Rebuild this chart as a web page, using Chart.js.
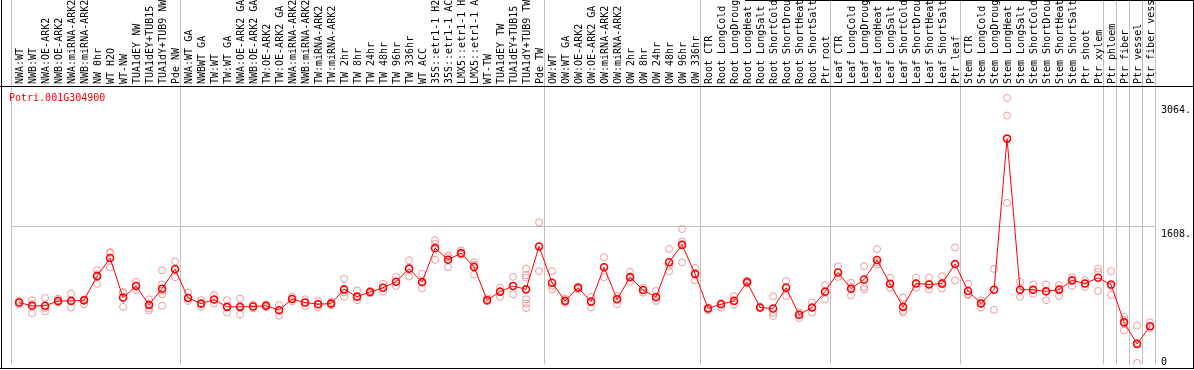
<!DOCTYPE html>
<html>
<head>
<meta charset="utf-8">
<script src="https://cdn.jsdelivr.net/npm/chart.js@4/dist/chart.umd.min.js"></script>
<style>
  html, body { margin: 0; padding: 0; background: #ffffff; }
  #chart { display: block; }
</style>
</head>
<body>
<canvas id="chart" width="1194" height="370"></canvas>
<script>
// Sample names, in plot order
const categories = [
    'NWA:WT', 'NWB:WT', 'NWA:OE-ARK2', 'NWB:OE-ARK2', 'NWA:miRNA-ARK2', 'NWB:miRNA-ARK2',
    'NW 0hr', 'WT H2O', 'WT-NW', 'TUA1dEY NW', 'TUA1dEY+TUB15 NW', 'TUA1dY+TUB9 NW', 'Pde NW',
    'NWA:WT GA', 'NWBWT GA', 'TW:WT', 'TW:WT GA', 'NWA:OE-ARK2 GA', 'NWB:OE-ARK2 GA',
    'TW:OE-ARK2', 'TW:OE-ARK2 GA', 'NWA:miRNA-ARK2 GA', 'NWB:miRNA-ARK2 GA', 'TW:miRNA-ARK2',
    'TW:miRNA-ARK2', 'TW 2hr', 'TW 8hr', 'TW 24hr', 'TW 48hr', 'TW 96hr', 'TW 336hr', 'WT ACC',
    '35S::etr1-1 H2O', '35S::etr1-1 ACC', 'LMX5::etr1-1 H2O', 'LMX5::etr1-1 ACC', 'WT-TW',
    'TUA1dEY TW', 'TUA1dEY+TUB15 TW', 'TUA1dY+TUB9 TW', 'Pde TW',
    'OW:WT', 'OW:WT GA', 'OW:OE-ARK2', 'OW:OE-ARK2 GA', 'OW:miRNA-ARK2', 'OW:miRNA-ARK2',
    'OW 2hr', 'OW 8hr', 'OW 24hr', 'OW 48hr', 'OW 96hr', 'OW 336hr',
    'Root CTR', 'Root LongCold', 'Root LongDrought', 'Root LongHeat', 'Root LongSalt',
    'Root ShortCold', 'Root ShortDrought', 'Root ShortHeat', 'Root ShortSalt', 'Ptr root',
    'Leaf CTR', 'Leaf LongCold', 'Leaf LongDrought', 'Leaf LongHeat', 'Leaf LongSalt',
    'Leaf ShortCold', 'Leaf ShortDrought', 'Leaf ShortHeat', 'Leaf ShortSalt', 'Ptr leaf',
    'Stem CTR', 'Stem LongCold', 'Stem LongDrought', 'Stem LongHeat', 'Stem LongSalt',
    'Stem ShortCold', 'Stem ShortDrought', 'Stem ShortHeat', 'Stem ShortSalt', 'Ptr shoot',
    'Ptr xylem', 'Ptr phloem', 'Ptr fiber', 'Ptr vessel', 'Ptr fiber vessel'
];

// Mean expression per sample
const meanValues = [
    722, 684, 684, 741, 741, 749, 1030, 1242, 780, 915, 695, 884, 1111,
    776, 710, 757, 672, 672, 676, 684, 633, 764, 722, 703, 710, 876, 791, 845, 895, 964, 1118, 961,
    1357, 1222, 1299, 1138, 749, 849, 915, 876, 1377,
    953, 741, 895, 733, 1134, 760, 1019, 868, 787, 1192, 1395, 1057,
    653, 703, 741, 961, 664, 653, 895, 580, 664, 849,
    1072, 884, 991, 1219, 941, 672, 945, 933, 945, 1172,
    857, 710, 872, 2636, 872, 872, 853, 872, 980, 945,
    1011, 933, 491, 240, 445
];

// Individual replicates per sample
const replicateValues = [
    [745, 722, 700], [749, 705, 598], [776, 658, 618], [768, 733, 722], [826, 741, 664], [760, 741, 703],
    [1100, 1050, 940], [1311, 1299, 1134], [845, 837, 672], [964, 922, 864], [760, 656, 633],
    [1100, 933, 860, 818, 684], [1203, 1111, 1019],
    [837, 776, 741], [749, 710, 672], [811, 757, 710], [749, 672, 606], [768, 672, 583], [699, 676, 653],
    [700, 684, 668], [691, 633, 568], [790, 764, 738], [760, 722, 684], [740, 703, 666], [730, 710, 690],
    [999, 840, 790], [864, 791, 749], [860, 845, 830], [941, 895, 849], [1019, 964, 915],
    [1215, 1118, 1026], [1057, 961, 887], [1450, 1410, 1222], [1273, 1250, 1134], [1330, 1290, 1280],
    [1192, 1165, 1049], [771, 749, 737], [895, 849, 787], [1022, 915, 818],
    [1118, 1042, 1011, 760, 710, 656], [1658, 1377, 1088],
    [1088, 918, 876], [768, 741, 718], [910, 895, 880], [787, 733, 664], [1250, 1134, 1019],
    [799, 760, 703], [1080, 1019, 964], [895, 868, 837], [857, 780, 741], [1349, 1148, 1088],
    [1580, 1434, 1192], [1126, 1057, 980],
    [664, 653, 633], [718, 703, 664], [795, 741, 695], [980, 961, 945], [672, 664, 656],
    [795, 600, 565], [972, 903, 799], [606, 580, 541], [722, 664, 606], [926, 849, 760],
    [1146, 1072, 1022], [953, 903, 806], [1146, 903, 876], [1346, 1192, 1164], [1011, 941, 895],
    [780, 626, 606], [1011, 945, 895], [1011, 933, 876], [1030, 933, 887], [1365, 1172, 980],
    [940, 820, 811], [749, 710, 664], [1115, 872, 637], [3110, 2905, 1885], [964, 872, 787],
    [933, 872, 826], [933, 857, 749], [926, 887, 799], [1019, 991, 915], [980, 945, 903],
    [1118, 1080, 857], [1088, 915, 811], [557, 520, 395], [453, 240, 17], [491, 445, 425]
];

// Value axis ticks
const yTickValues = [0, 1608, 3064];
const yMax = 3250;

// First sample of each tissue group (a grey separator is drawn before it)
const groupStarts = [0, 13, 41, 53, 63, 73, 84, 85, 86, 87];

const geneName = 'Potri.001G304900';

const monoFont = { family: 'DejaVu Sans Mono', size: 10, lineHeight: 1 };
const gridGrey = '#c0c0c0';

// Points sit a little right of each slot's centre in the original
const pointShift = 0.12;

// Build point lists for the linear axis
const meanPoints = meanValues.map((v, i) => ({ x: i, y: v }));
const replicatePoints = [];
replicateValues.forEach((reps, i) => {
    reps.forEach(v => replicatePoints.push({ x: i, y: v }));
});

// Frame lines and the gene name
const framePlugin = {
    id: 'frame',
    afterDraw(chart) {
        const c = chart.ctx;
        const w = chart.width;
        c.save();
        c.fillStyle = '#000000';
        c.fillRect(1, 0, 1, 369);
        c.fillRect(w - 1, 0, 1, 369);
        c.fillRect(0, 368, w, 1);
        c.fillRect(0, 86, w, 1);
        c.fillRect(745, 0, w - 745, 1);

        c.fillStyle = '#ff0000';
        c.font = '10px "DejaVu Sans Mono"';
        c.textBaseline = 'alphabetic';
        c.textAlign = 'left';
        c.fillText(geneName, 9, 101);
        c.restore();
    }
};

const chartCtx = document.getElementById('chart').getContext('2d');

new Chart(chartCtx, {
    type: 'line',
    data: {
        labels: categories,
        datasets: [
            {
                label: 'mean',
                data: meanPoints,
                xAxisID: 'xr',
                yAxisID: 'y',
                borderColor: '#ff0000',
                borderWidth: 1,
                tension: 0,
                fill: false,
                pointRadius: 3.5,
                pointBorderWidth: 1.6,
                pointBorderColor: '#ff0000',
                pointBackgroundColor: 'rgba(0,0,0,0)'
            },
            {
                label: 'replicates',
                data: replicatePoints,
                xAxisID: 'xr',
                yAxisID: 'y',
                showLine: false,
                pointRadius: 3.5,
                pointBorderWidth: 1,
                pointBorderColor: '#f09898',
                pointBackgroundColor: 'rgba(0,0,0,0)'
            }
        ]
    },
    options: {
        responsive: false,
        animation: false,
        devicePixelRatio: 1,
        layout: {
            padding: { left: 11, right: 1, top: 0, bottom: 2 }
        },
        plugins: {
            legend: { display: false },
            tooltip: { enabled: false }
        },
        scales: {
            x: {
                type: 'category',
                position: 'top',
                offset: true,
                grid: {
                    offset: true,
                    tickLength: 86,
                    lineWidth: 1,
                    color: function(context) {
                        if (context.index === undefined || groupStarts.includes(context.index)) {
                            return gridGrey;
                        }
                        return 'rgba(0,0,0,0)';
                    }
                },
                border: { display: false },
                ticks: {
                    autoSkip: false,
                    minRotation: 90,
                    maxRotation: 90,
                    padding: -84,
                    labelOffset: 13,
                    color: '#000000',
                    font: monoFont
                },
                afterFit: function(scale) {
                    scale.height = 86;
                    scale.paddingLeft = 0;
                    scale.paddingRight = 0;
                }
            },
            xr: {
                type: 'linear',
                display: false,
                min: -0.5 - pointShift,
                max: categories.length - 0.5 - pointShift
            },
            y: {
                position: 'right',
                min: 0,
                max: yMax,
                afterBuildTicks: function(scale) {
                    scale.ticks = yTickValues.map(v => ({ value: v }));
                },
                grid: {
                    drawTicks: false,
                    color: function(context) {
                        return context.tick && context.tick.value === 1608 ? gridGrey : 'rgba(0,0,0,0)';
                    }
                },
                border: { display: false },
                ticks: {
                    padding: 6,
                    labelOffset: 3,
                    color: '#000000',
                    font: monoFont,
                    callback: function(value) {
                        return value === 0 ? ['0', ''] : ['', value + '.'];
                    }
                },
                afterFit: function(scale) {
                    scale.width = 38;
                    scale.paddingTop = 0;
                    scale.paddingBottom = 0;
                }
            }
        }
    },
    plugins: [framePlugin]
});
</script>
</body>
</html>
